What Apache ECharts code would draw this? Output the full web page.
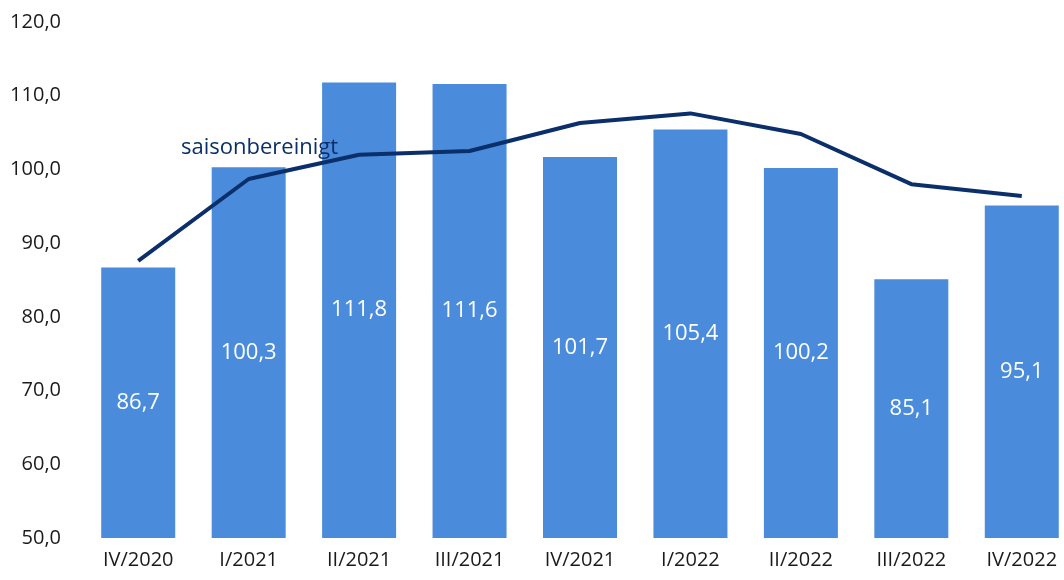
<!DOCTYPE html>
<html>
<head>
    <meta charset="utf-8" />
    <title></title>
    <script src="https://cdn.jsdelivr.net/npm/echarts@6/dist/echarts.min.js"></script>
    <style>
    body { margin: 0; background: #fff; }
    #main { width: 1064px; height: 580px; }
    </style>
</head>
<body>
    <div id="main"></div>
    <script type="text/javascript">
        // Quartale
        var categories = ['IV/2020', 'I/2021', 'II/2021', 'III/2021', 'IV/2021', 'I/2022', 'II/2022', 'III/2022', 'IV/2022'];
        // Originalwerte (Balken)
        var barValues = [86.7, 100.3, 111.8, 111.6, 101.7, 105.4, 100.2, 85.1, 95.1];
        // saisonbereinigt (Linie)
        var lineValues = [87.6, 98.7, 102.0, 102.5, 106.3, 107.6, 104.8, 98.0, 96.4];

        var fmt = function (v) { return v.toFixed(1).replace('.', ','); };
        var fontFam = '"Open Sans", "Noto Sans", sans-serif';

        var myChart = echarts.init(document.getElementById('main'));
        myChart.setOption({
            animation: false,
            grid: { left: 83, right: -13, top: 22, bottom: 42, outerBoundsMode: 'none' },
            xAxis: {
                type: 'category',
                data: categories,
                axisLine: { show: false },
                axisTick: { show: false },
                axisLabel: { color: '#1a1a1a', fontSize: 20, fontFamily: fontFam, margin: 12 }
            },
            yAxis: {
                type: 'value',
                min: 50,
                max: 120,
                interval: 10,
                splitLine: { show: false },
                axisLabel: {
                    color: '#1a1a1a', fontSize: 20, fontFamily: fontFam, margin: 22,
                    formatter: fmt
                }
            },
            graphic: [{
                type: 'text',
                left: 181,
                top: 137,
                z: 100,
                style: { text: 'saisonbereinigt', fill: '#0b2f6b', fontSize: 22, fontFamily: fontFam }
            }],
            series: [
                {
                    type: 'bar',
                    data: barValues,
                    barWidth: '67%',
                    itemStyle: { color: '#4a8cdb' },
                    label: {
                        show: true,
                        position: 'inside',
                        color: '#fff',
                        fontSize: 22,
                        fontFamily: fontFam,
                        formatter: function (p) { return fmt(p.value); }
                    }
                },
                {
                    type: 'line',
                    data: lineValues,
                    symbol: 'none',
                    lineStyle: { color: '#0b2f6b', width: 4 }
                }
            ]
        });
    </script>
</body>
</html>
